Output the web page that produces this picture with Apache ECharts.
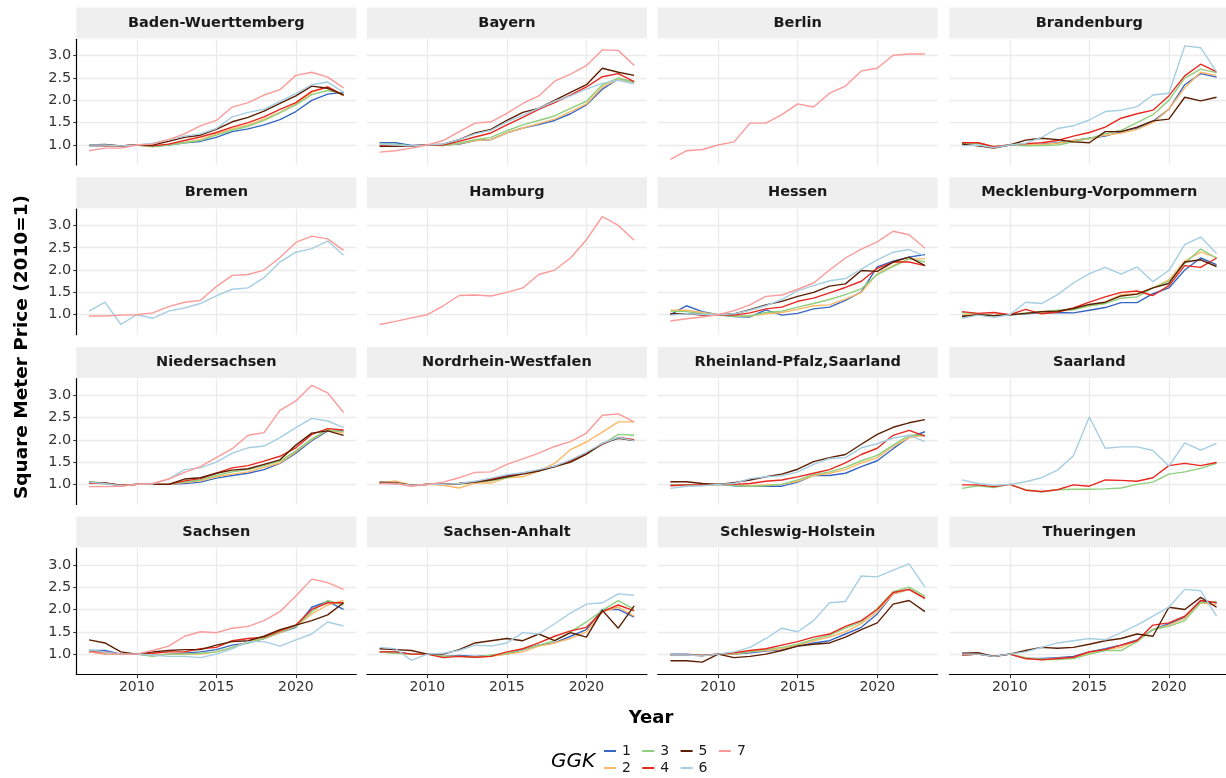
<!DOCTYPE html>
<html>
<head>
<meta charset="utf-8">
<script src="https://cdn.jsdelivr.net/npm/echarts@6/dist/echarts.min.js"></script>
<style>
  html, body { margin: 0; padding: 0; background: #ffffff; }
  #chart { width: 1226px; height: 778px; }
</style>
</head>
<body>
<div id="chart"></div>
<script>
// Years on the x axis
const years = [2007, 2008, 2009, 2010, 2011, 2012, 2013, 2014, 2015, 2016, 2017, 2018, 2019, 2020, 2021, 2022, 2023];

// GGK groups and their line colours
const ggkLevels = ['1', '2', '3', '4', '5', '6', '7'];
const ggkColors = ['#3767C4', '#FDB866', '#8FCF7D', '#E8281F', '#5C1F02', '#A6CEE3', '#FB9A99'];

// Tick positions
const yearTicks = [2010, 2015, 2020];
const priceTicks = [1.0, 1.5, 2.0, 2.5, 3.0];

// Facet titles, in panel order
const stateNames = [
  'Baden-Wuerttemberg', 'Bayern', 'Berlin', 'Brandenburg',
  'Bremen', 'Hamburg', 'Hessen', 'Mecklenburg-Vorpommern',
  'Niedersachsen', 'Nordrhein-Westfalen', 'Rheinland-Pfalz,Saarland', 'Saarland',
  'Sachsen', 'Sachsen-Anhalt', 'Schleswig-Holstein', 'Thueringen'
];

// Price index (2010 = 1) per state; one row per GGK 1..7, null where a group has no data
const badenWuerttemberg = [
  [0.98,0.99,0.98,1.00,0.97,1.00,1.05,1.08,1.17,1.30,1.36,1.45,1.57,1.75,2.00,2.14,2.18],
  [0.99,0.99,0.98,1.00,0.97,1.01,1.06,1.12,1.25,1.36,1.45,1.58,1.73,1.92,2.18,2.30,2.10],
  [1.00,1.00,0.98,1.00,0.96,1.00,1.05,1.10,1.22,1.33,1.42,1.55,1.72,1.90,2.13,2.22,2.15],
  [1.00,0.99,0.98,1.00,0.98,1.02,1.10,1.18,1.28,1.40,1.50,1.63,1.80,1.95,2.20,2.30,2.12],
  [1.00,1.01,0.98,1.00,1.00,1.08,1.17,1.22,1.35,1.52,1.62,1.76,1.93,2.10,2.32,2.27,2.12],
  [1.00,1.00,0.98,1.00,1.04,1.12,1.20,1.25,1.37,1.63,1.73,1.80,1.98,2.15,2.35,2.41,2.18],
  [0.87,0.93,0.93,1.00,1.02,1.12,1.25,1.43,1.55,1.85,1.95,2.12,2.24,2.56,2.63,2.52,2.28]
];
const bayern = [
  [1.05,1.05,0.99,1.00,1.00,1.02,1.10,1.12,1.27,1.38,1.46,1.55,1.70,1.90,2.25,2.48,2.42],
  [1.00,1.00,0.98,1.00,0.99,1.03,1.10,1.12,1.27,1.38,1.48,1.58,1.75,1.92,2.30,2.47,2.40],
  [1.02,1.02,0.98,1.00,0.99,1.04,1.12,1.17,1.32,1.45,1.55,1.65,1.82,1.98,2.35,2.50,2.40],
  [0.98,0.98,0.98,1.00,1.00,1.08,1.18,1.27,1.45,1.62,1.80,1.95,2.12,2.30,2.53,2.60,2.42],
  [0.97,0.97,0.98,1.00,1.02,1.12,1.27,1.35,1.55,1.73,1.82,2.00,2.18,2.35,2.72,2.63,2.56],
  [1.02,1.00,0.98,1.00,1.02,1.12,1.25,1.33,1.52,1.67,1.82,1.98,2.10,2.25,2.38,2.45,2.37],
  [0.84,0.87,0.93,1.00,1.10,1.30,1.49,1.52,1.71,1.93,2.10,2.43,2.59,2.78,3.13,3.12,2.78]
];
const berlin = [
  null, null, null, null, null, null,
  [0.68,0.87,0.90,1.00,1.07,1.49,1.49,1.68,1.92,1.85,2.16,2.32,2.66,2.72,3.01,3.04,3.04]
];
const brandenburg = [
  [1.05,1.05,0.95,1.00,1.00,1.02,1.05,1.10,1.15,1.20,1.30,1.38,1.53,1.80,2.35,2.60,2.52],
  [1.05,1.05,0.96,1.00,1.00,1.01,1.04,1.10,1.14,1.22,1.27,1.35,1.50,1.80,2.28,2.63,2.56],
  [1.03,1.03,0.96,1.00,0.98,0.99,1.00,1.07,1.15,1.25,1.33,1.50,1.68,2.00,2.50,2.70,2.62],
  [1.05,1.05,0.96,1.00,1.03,1.05,1.10,1.20,1.28,1.40,1.60,1.70,1.78,2.10,2.55,2.81,2.64],
  [1.02,0.98,0.93,1.00,1.11,1.15,1.12,1.07,1.05,1.30,1.30,1.40,1.54,1.58,2.07,1.99,2.07],
  [0.98,1.00,0.94,1.00,1.04,1.17,1.37,1.43,1.56,1.75,1.78,1.86,2.12,2.16,3.22,3.18,2.64],
  null
];
const bremen = [
  null, null, null, null, null,
  [1.08,1.28,0.78,1.00,0.92,1.08,1.15,1.25,1.42,1.57,1.60,1.83,2.18,2.40,2.48,2.65,2.33],
  [0.97,0.97,0.99,1.00,1.04,1.18,1.28,1.32,1.63,1.88,1.90,2.00,2.28,2.62,2.76,2.70,2.44]
];
const hamburg = [
  null, null, null, null, null, null,
  [0.78,0.85,0.93,1.00,1.20,1.43,1.44,1.42,1.50,1.60,1.90,2.00,2.27,2.68,3.20,3.00,2.67]
];
const hessen = [
  [1.00,1.20,1.07,1.00,0.96,0.95,1.11,0.99,1.03,1.13,1.17,1.32,1.51,2.07,2.20,2.29,2.35],
  [1.10,1.10,1.05,1.00,0.97,0.97,1.02,1.05,1.12,1.20,1.22,1.35,1.50,1.92,2.10,2.25,2.25],
  [1.08,1.07,1.02,1.00,0.97,0.97,1.05,1.08,1.17,1.25,1.34,1.45,1.58,1.90,2.08,2.25,2.18],
  [1.02,1.02,1.00,1.00,0.99,1.04,1.13,1.17,1.30,1.37,1.49,1.61,1.75,2.04,2.18,2.18,2.10],
  [1.02,1.02,1.00,1.00,1.02,1.11,1.22,1.30,1.41,1.50,1.64,1.69,1.99,1.97,2.18,2.29,2.10],
  [0.99,1.02,1.01,1.00,1.02,1.10,1.20,1.34,1.54,1.65,1.76,1.81,2.02,2.23,2.40,2.46,2.32],
  [0.86,0.91,0.95,1.00,1.09,1.22,1.41,1.44,1.57,1.71,2.00,2.27,2.47,2.63,2.87,2.79,2.49]
];
const mecklenburgVorpommern = [
  [0.98,1.00,0.98,1.00,1.02,1.04,1.05,1.04,1.10,1.16,1.27,1.27,1.47,1.60,2.00,2.27,2.12],
  [1.00,1.00,0.98,1.00,1.03,1.06,1.07,1.12,1.20,1.28,1.45,1.47,1.60,1.78,2.20,2.40,2.28],
  [1.05,1.02,0.98,1.00,1.04,1.07,1.10,1.11,1.20,1.25,1.37,1.40,1.60,1.75,2.15,2.47,2.27],
  [1.07,1.03,1.05,1.00,1.12,1.02,1.06,1.15,1.28,1.40,1.50,1.53,1.43,1.65,2.10,2.06,2.27],
  [0.96,1.00,0.98,1.00,1.03,1.07,1.08,1.14,1.23,1.28,1.42,1.46,1.60,1.70,2.18,2.23,2.08],
  [0.92,0.99,0.94,1.00,1.28,1.25,1.45,1.71,1.92,2.06,1.91,2.07,1.74,1.99,2.57,2.74,2.37],
  null
];
const niedersachsen = [
  [1.03,1.02,0.98,1.00,1.00,1.00,1.02,1.05,1.14,1.20,1.25,1.33,1.47,1.70,1.98,2.20,2.20],
  [1.03,1.02,0.98,1.00,1.00,1.00,1.04,1.08,1.17,1.23,1.28,1.38,1.48,1.73,2.00,2.22,2.15],
  [1.05,1.03,0.98,1.00,1.00,1.00,1.05,1.10,1.20,1.28,1.33,1.42,1.52,1.75,2.02,2.22,2.18],
  [1.03,1.03,0.98,1.00,1.00,1.00,1.08,1.13,1.25,1.37,1.42,1.52,1.63,1.82,2.12,2.25,2.22],
  [1.05,1.03,0.97,1.00,1.00,1.00,1.12,1.15,1.25,1.32,1.35,1.45,1.55,1.88,2.15,2.20,2.10],
  [1.05,1.02,0.97,1.00,1.01,1.12,1.33,1.37,1.50,1.70,1.82,1.86,2.05,2.27,2.48,2.42,2.27],
  [0.95,0.95,0.96,1.00,1.02,1.12,1.27,1.40,1.60,1.80,2.10,2.16,2.66,2.87,3.22,3.05,2.61]
];
const nordrheinWestfalen = [
  [1.03,1.02,0.98,1.00,1.00,1.02,1.06,1.12,1.20,1.25,1.32,1.40,1.53,1.70,1.90,2.05,1.98],
  [1.02,1.08,0.98,1.00,0.98,0.92,1.03,1.03,1.15,1.17,1.30,1.47,1.78,1.95,2.17,2.40,2.40],
  [1.05,1.03,0.98,1.00,1.00,1.00,1.05,1.08,1.15,1.25,1.30,1.40,1.50,1.68,1.90,2.12,2.10],
  [1.03,1.02,0.98,1.00,1.00,1.02,1.05,1.12,1.18,1.25,1.32,1.40,1.52,1.70,1.90,2.05,2.00],
  [1.05,1.04,0.98,1.00,1.00,1.02,1.05,1.10,1.17,1.23,1.30,1.40,1.50,1.68,1.92,2.03,1.98],
  [1.02,1.02,0.98,1.00,1.00,1.02,1.07,1.14,1.22,1.26,1.33,1.41,1.55,1.72,1.92,2.05,1.98],
  [1.02,1.02,0.96,1.00,1.05,1.15,1.27,1.28,1.45,1.57,1.70,1.85,1.96,2.15,2.55,2.58,2.40]
];
const rheinlandPfalzSaarland = [
  [0.99,0.99,0.99,1.00,0.97,0.96,0.96,0.96,1.05,1.20,1.20,1.25,1.40,1.53,1.80,2.05,2.18],
  [0.98,0.98,0.99,1.00,0.98,0.97,0.99,1.00,1.07,1.20,1.25,1.33,1.48,1.60,1.85,2.05,2.10],
  [0.98,0.98,0.99,1.00,0.98,0.96,0.97,1.00,1.10,1.22,1.28,1.38,1.53,1.65,1.88,2.10,2.10],
  [0.97,0.99,0.99,1.00,1.00,1.02,1.07,1.10,1.17,1.25,1.33,1.48,1.67,1.81,2.10,2.21,2.08],
  [1.06,1.06,1.02,1.00,1.04,1.10,1.17,1.23,1.34,1.51,1.60,1.67,1.90,2.12,2.28,2.38,2.45],
  [0.91,0.96,0.97,1.00,1.02,1.13,1.17,1.19,1.28,1.45,1.58,1.60,1.82,1.91,2.04,2.10,1.96],
  null
];
const saarland = [
  null, null,
  [0.91,0.97,0.93,1.00,0.88,0.83,0.88,0.89,0.89,0.90,0.92,1.00,1.05,1.23,1.28,1.36,1.47],
  [0.99,0.99,0.95,1.00,0.87,0.84,0.88,0.99,0.96,1.10,1.09,1.07,1.15,1.42,1.47,1.42,1.49],
  null,
  [1.10,1.02,0.98,1.00,1.06,1.15,1.32,1.64,2.51,1.81,1.84,1.84,1.76,1.41,1.93,1.77,1.92],
  null
];
const sachsen = [
  [1.08,1.08,1.00,1.00,0.97,1.00,1.02,1.05,1.10,1.20,1.25,1.35,1.48,1.60,2.05,2.18,2.00],
  [1.05,1.00,1.00,1.00,0.97,1.00,1.00,1.00,1.05,1.15,1.28,1.35,1.48,1.62,1.90,2.10,2.20],
  [1.08,1.00,1.00,1.00,0.95,1.00,1.00,1.02,1.05,1.15,1.25,1.35,1.50,1.62,1.95,2.20,2.10],
  [1.05,1.05,1.00,1.00,1.02,1.05,1.05,1.12,1.15,1.30,1.35,1.38,1.52,1.65,2.00,2.15,2.15],
  [1.32,1.25,1.05,1.00,1.05,1.08,1.10,1.10,1.20,1.28,1.30,1.40,1.55,1.65,1.75,1.88,2.15],
  [1.10,1.05,1.00,1.00,0.98,0.95,0.95,0.92,1.00,1.12,1.28,1.28,1.18,1.32,1.45,1.72,1.63],
  [1.05,1.00,1.00,1.00,1.08,1.18,1.40,1.50,1.48,1.58,1.62,1.75,1.95,2.30,2.68,2.60,2.45]
];
const sachsenAnhalt = [
  [1.05,1.05,1.00,1.00,0.95,0.97,0.95,0.97,1.00,1.10,1.20,1.25,1.40,1.55,2.00,2.00,1.83],
  [1.05,1.02,1.00,1.00,0.95,0.95,0.93,0.95,1.00,1.05,1.18,1.25,1.35,1.50,1.95,2.05,1.85],
  [1.05,1.02,1.00,1.00,0.95,0.95,0.93,0.98,1.02,1.10,1.20,1.30,1.50,1.72,1.98,2.20,2.00],
  [1.05,1.05,1.00,1.00,0.92,0.95,0.93,0.95,1.05,1.12,1.25,1.40,1.52,1.60,1.95,2.10,1.97],
  [1.12,1.10,1.08,1.00,1.00,1.10,1.25,1.30,1.35,1.30,1.45,1.30,1.48,1.38,1.98,1.58,2.08],
  [1.15,1.12,0.86,1.00,1.02,1.08,1.20,1.18,1.25,1.48,1.45,1.68,1.92,2.12,2.15,2.35,2.32],
  null
];
const schleswigHolstein = [
  [1.00,1.00,0.97,1.00,1.00,1.03,1.07,1.10,1.18,1.25,1.30,1.45,1.60,1.90,2.35,2.45,2.25],
  [0.98,0.98,0.97,1.00,1.00,1.05,1.08,1.12,1.20,1.30,1.38,1.50,1.68,1.95,2.35,2.45,2.25],
  [0.98,0.98,0.97,1.00,1.02,1.05,1.10,1.15,1.22,1.33,1.42,1.58,1.72,2.02,2.40,2.50,2.30],
  [0.98,0.98,0.97,1.00,1.03,1.08,1.12,1.20,1.28,1.38,1.45,1.62,1.75,2.00,2.38,2.45,2.25],
  [0.85,0.85,0.82,1.00,0.92,0.95,1.00,1.08,1.18,1.22,1.25,1.38,1.55,1.70,2.12,2.20,1.95],
  [0.98,0.98,0.96,1.00,1.05,1.15,1.35,1.58,1.50,1.75,2.15,2.18,2.75,2.73,2.88,3.02,2.50],
  null
];
const thueringen = [
  [0.98,1.00,0.95,1.00,0.90,0.90,0.92,0.95,1.05,1.12,1.20,1.32,1.55,1.68,1.82,2.20,2.15],
  [0.98,1.00,0.95,1.00,0.90,0.88,0.90,0.92,1.02,1.10,1.15,1.30,1.55,1.65,1.80,2.15,2.10],
  [0.98,1.00,0.95,1.00,0.92,0.88,0.88,0.90,1.00,1.08,1.08,1.28,1.55,1.62,1.75,2.15,2.18],
  [0.98,1.00,0.95,1.00,0.90,0.87,0.90,0.93,1.05,1.10,1.20,1.30,1.65,1.70,1.85,2.20,2.15],
  [1.02,1.03,0.95,1.00,1.08,1.15,1.13,1.15,1.22,1.30,1.35,1.45,1.40,2.05,2.00,2.27,2.05],
  [1.00,1.00,0.95,1.00,1.05,1.15,1.25,1.30,1.35,1.32,1.48,1.65,1.85,2.05,2.45,2.42,1.85],
  null
];

const stateData = [
  badenWuerttemberg, bayern, berlin, brandenburg,
  bremen, hamburg, hessen, mecklenburgVorpommern,
  niedersachsen, nordrheinWestfalen, rheinlandPfalzSaarland, saarland,
  sachsen, sachsenAnhalt, schleswigHolstein, thueringen
];

// Panel geometry
const FONT = '"DejaVu Sans", "Liberation Sans", sans-serif';
const colLeft = [76.3, 366.9, 657.7, 949.3];
const rowTop = [39.3, 209.0, 378.7, 548.4];
const panelW = 280;
const panelH = 125.7;
const stripH = 31;
const yMin = 0.552, yMax = 3.368;
const xMin = 2006.2, xMax = 2023.8;

const grids = [], xAxes = [], yAxes = [], series = [], graphics = [];

stateNames.forEach((name, i) => {
  const r = Math.floor(i / 4), c = i % 4;
  const left = colLeft[c], top = rowTop[r];
  grids.push({ left: left, top: top, width: panelW, height: panelH, outerBoundsMode: 'none', containLabel: false });

  const bottomRow = r === 3;
  const firstCol = c === 0;

  xAxes.push({
    type: 'value', gridIndex: i, min: xMin, max: xMax,
    minInterval: 5, maxInterval: 5,
    axisLine: { show: bottomRow, onZero: false, lineStyle: { color: '#000000', width: 1.2 } },
    axisTick: { show: bottomRow, length: 4, customValues: yearTicks, lineStyle: { color: '#333333', width: 1.1 } },
    axisLabel: { show: bottomRow, customValues: yearTicks,
      color: '#333333', fontSize: 14, fontFamily: FONT, margin: 6,
      formatter: v => String(Math.round(v)) },
    splitLine: { show: true, lineStyle: { color: '#EBEBEB', width: 1.3 } }
  });

  yAxes.push({
    type: 'value', gridIndex: i, min: yMin, max: yMax,
    minInterval: 0.5, maxInterval: 0.5,
    axisLine: { show: firstCol, onZero: false, lineStyle: { color: '#000000', width: 1.2 } },
    axisTick: { show: firstCol, length: 3, customValues: priceTicks, lineStyle: { color: '#333333', width: 1.1 } },
    axisLabel: { show: firstCol, customValues: priceTicks,
      color: '#333333', fontSize: 14.5, fontFamily: FONT, margin: 5,
      formatter: v => Number(v).toFixed(1) },
    splitLine: { show: true, lineStyle: { color: '#EBEBEB', width: 1.3 } }
  });

  stateData[i].forEach((vals, g) => {
    if (!vals) return;
    series.push({
      name: ggkLevels[g], type: 'line', xAxisIndex: i, yAxisIndex: i,
      data: years.map((yr, k) => [yr, vals[k]]),
      symbol: 'none', showSymbol: false, smooth: false,
      color: ggkColors[g],
      lineStyle: { color: ggkColors[g], width: 1.4 },
      emphasis: { disabled: true },
      z: 2 + g
    });
  });

  // Facet strip
  graphics.push({
    type: 'rect', silent: true,
    shape: { x: left, y: top - stripH - 0.8, width: panelW, height: stripH },
    style: { fill: '#EFEFEF' }
  });
  graphics.push({
    type: 'text', silent: true,
    x: left + panelW / 2, y: top - stripH / 2 - 0.8,
    style: { text: name, fill: '#1A1A1A', fontSize: 14.5, fontWeight: 'bold', fontFamily: FONT,
      align: 'center', verticalAlign: 'middle' }
  });
});

// Axis titles
graphics.push({
  type: 'text', silent: true, x: 651, y: 718,
  style: { text: 'Year', fill: '#000000', fontSize: 18, fontWeight: 'bold', fontFamily: FONT,
    align: 'center', verticalAlign: 'middle' }
});
graphics.push({
  type: 'text', silent: true, x: 22, y: 347, rotation: Math.PI / 2,
  style: { text: 'Square Meter Price (2010=1)', fill: '#000000', fontSize: 18.5, fontWeight: 'bold', fontFamily: FONT,
    align: 'center', verticalAlign: 'middle' }
});
// Legend title
graphics.push({
  type: 'text', silent: true, x: 573, y: 762,
  style: { text: 'GGK', fill: '#000000', fontSize: 20, fontStyle: 'italic', fontFamily: FONT,
    align: 'center', verticalAlign: 'middle' }
});

// Legend: four two-row columns, filled column-wise
const legendColumns = [['1', '2'], ['3', '4'], ['5', '6'], ['7']];
const legends = legendColumns.map((items, k) => ({
  data: items, orient: 'vertical', left: 604 + k * 38.3, top: 744,
  icon: 'rect', itemWidth: 12, itemHeight: 2, itemGap: 3, padding: 0,
  selectedMode: false,
  textStyle: { color: '#1A1A1A', fontSize: 14, fontFamily: FONT, lineHeight: 14, padding: [0, 0, 0, 1] }
}));

const chart = echarts.init(document.getElementById('chart'), null, { renderer: 'canvas' });
chart.setOption({
  animation: false,
  backgroundColor: '#ffffff',
  grid: grids,
  xAxis: xAxes,
  yAxis: yAxes,
  legend: legends,
  series: series,
  graphic: { elements: graphics }
});
</script>
</body>
</html>
